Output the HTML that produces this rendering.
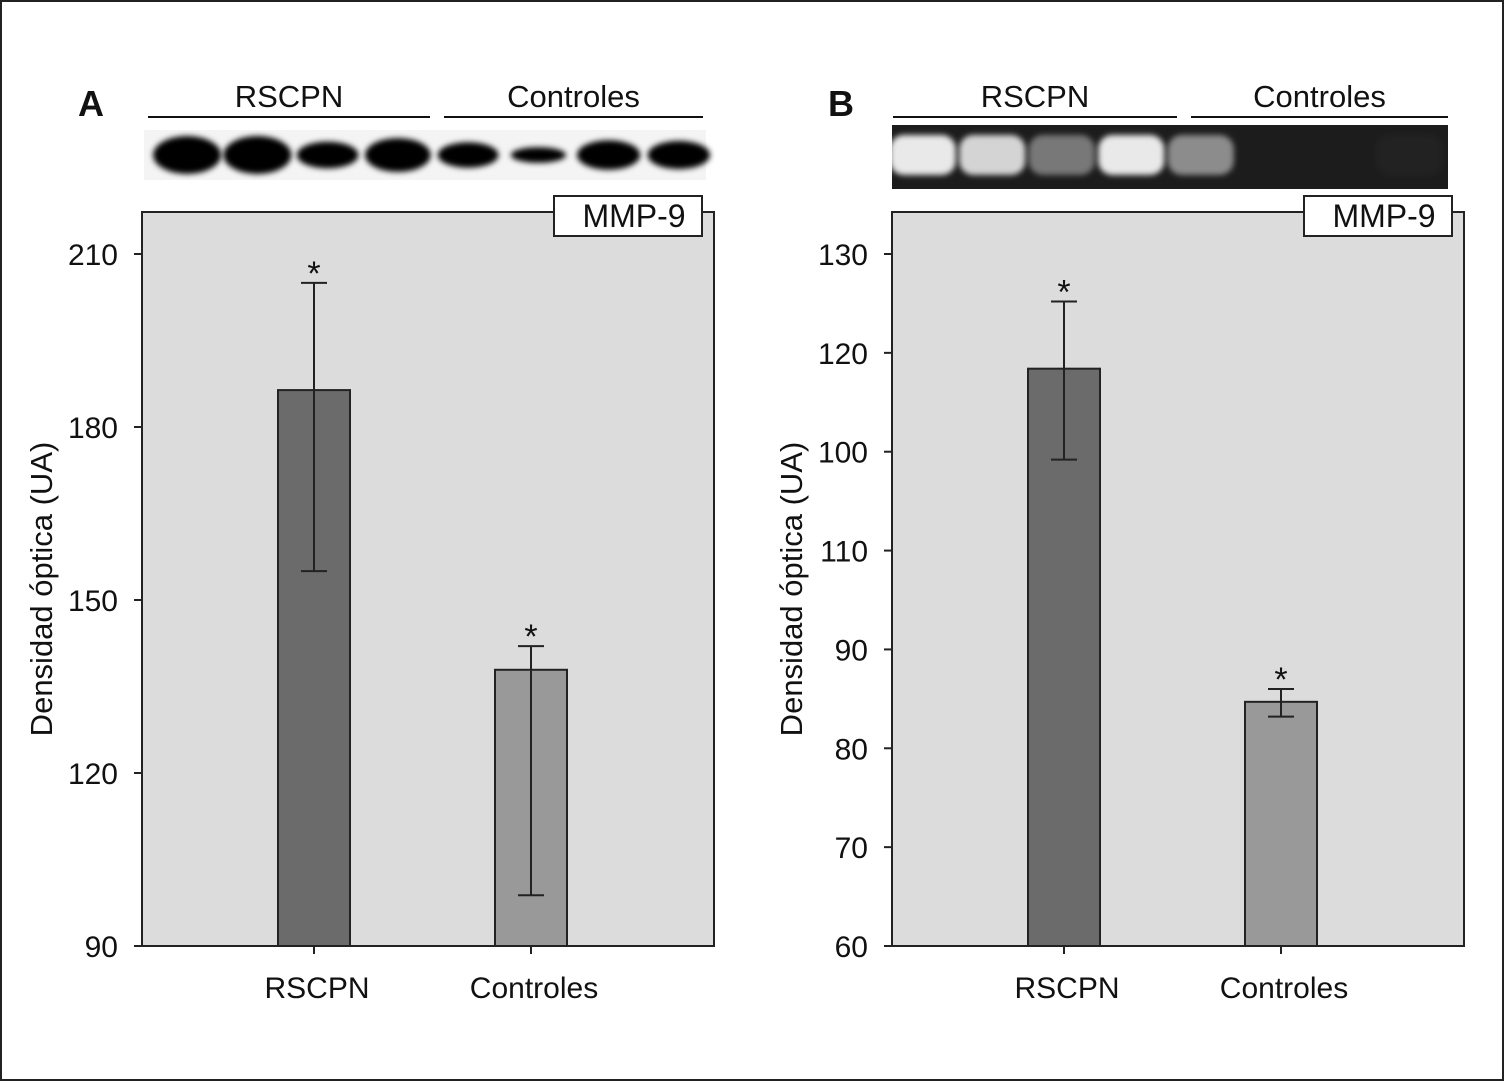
<!DOCTYPE html>
<html><head><meta charset="utf-8"><style>
body{margin:0;background:#fff}
svg text{font-family:"Liberation Sans",sans-serif;fill:#111}
</style></head><body>
<svg id="c" width="1504" height="1081" viewBox="0 0 1504 1081" xmlns="http://www.w3.org/2000/svg">
<defs>
<filter id="bl" x="-50%" y="-50%" width="200%" height="200%"><feGaussianBlur stdDeviation="3"/></filter>
</defs>
<rect x="1" y="1" width="1502" height="1079" fill="#fff" stroke="#222" stroke-width="2"/>
<g id="A"></g><g id="B"></g>
</svg>
<script>
const NS='http://www.w3.org/2000/svg';
const categories=['RSCPN','Controles'];
const valuesA=[186.4,137.9];
const errHiA=[205,142];
const errLoA=[155,98.8];
const ticksA=[90,120,150,180,210];
const valuesB=[118.4,84.7];
const errHiB=[125.2,86];
const errLoB=[109.2,83.2];
const tickValsB=[60,70,80,90,100,110,120,130];
const tickLabelsB=['60','70','80','90','110','100','120','130'];
const blotA=[1,1,0.6,0.85,0.55,0.2,0.7,0.65];
const blotB=[1,0.9,0.45,1,0.55,0,0,0.03];

function el(p,t,a){const e=document.createElementNS(NS,t);for(const k in a)e.setAttribute(k,a[k]);p.appendChild(e);return e;}

function panel(g,o){
  const x0=o.x0,x1=o.x0+572,yT=212,yB=946;
  const y=v=>yB-(v-o.min)/(o.max-o.min)*(yB-o.ty0);
  const L=el(g,'text',{x:o.x0-64,y:116,'font-size':36,'font-weight':'bold'});L.textContent=o.letter;
  
  
  o.groups.forEach((gr,i)=>{
    const ln=el(g,'line',{x1:gr[0],x2:gr[1],y1:117,y2:117,stroke:'#111','stroke-width':2});
    
    
    const t=el(g,'text',{x:(gr[0]+gr[1])/2,y:107,'font-size':31,'text-anchor':'middle'});t.textContent=categories[i];
    
    
  });
  const bg=el(g,'g',{});
  
  
  if(o.dark){
    el(bg,'rect',{x:892,y:125,width:556,height:64,fill:'#1c1c1c'});
    const lw=556/8;
    o.blot.forEach((v,i)=>{ if(v<=0.02)return;
      const cx=892+lw*(i+0.5)-4;
      el(bg,'rect',{x:cx-33,y:135,width:66,height:40,rx:14,fill:'#fff','fill-opacity':v*0.9,filter:'url(#bl)'});
    });
  } else {
    el(bg,'rect',{x:144,y:130,width:562,height:50,fill:'#f4f4f4'});
    const lw=562/8;
    o.blot.forEach((v,i)=>{
      const cx=144+lw*(i+0.5)+8;
      el(bg,'ellipse',{cx:cx,cy:155,rx:26+8*v,ry:5+14*v,fill:'#000',filter:'url(#bl)'});
    });
  }
  const pa=el(g,'rect',{x:x0,y:yT,width:572,height:yB-yT,fill:'#dcdcdc',stroke:'#222','stroke-width':2});
  
  
  const mb=el(g,'rect',{x:x1-160,y:196,width:148,height:40,fill:'#fff',stroke:'#222','stroke-width':2});
  
  
  const mt=el(g,'text',{x:x1-80,y:227,'font-size':32,'text-anchor':'middle'});mt.textContent='MMP-9';
  
  
  o.tickVals.forEach((v,i)=>{
    const yy=y(v);
    const tk=el(g,'line',{x1:x0-8,x2:x0,y1:yy,y2:yy,stroke:'#222','stroke-width':2});
    
    
    const t=el(g,'text',{x:x0-24,y:yy+11,'font-size':30,'text-anchor':'end'});t.textContent=o.tickLabels[i];
    
    
  });
  const yt=el(g,'text',{x:0,y:0,'font-size':31,'text-anchor':'middle',transform:`translate(${x0-90},${(yT+yB)/2+10}) rotate(-90)`});
  yt.textContent='Densidad óptica (UA)';
  
  
  const centers=[x0+172,x0+389];
  const cols=['#6b6b6b','#999999'];
  o.values.forEach((v,i)=>{
    const cx=centers[i];
    const b=el(g,'rect',{x:cx-36,y:y(v),width:72,height:yB-y(v),fill:cols[i],stroke:'#222','stroke-width':2});
    
    
    const e=el(g,'path',{d:`M${cx},${y(o.hi[i])}V${y(o.lo[i])}M${cx-13},${y(o.hi[i])}H${cx+13}M${cx-13},${y(o.lo[i])}H${cx+13}`,stroke:'#222','stroke-width':2,fill:'none'});
    
    
    const s=el(g,'text',{x:cx,y:y(o.hi[i])+2,'font-size':34,'text-anchor':'middle'});s.textContent='*';
    
    
    const xt=el(g,'line',{x1:cx,x2:cx,y1:yB,y2:yB+8,stroke:'#222','stroke-width':2});
    
    
    const xl=el(g,'text',{x:cx+3,y:998,'font-size':30,'text-anchor':'middle'});xl.textContent=categories[i];
    
    
  });
}
panel(document.getElementById('A'),{x0:142,letter:'A',min:90,max:210,ty0:254,tickVals:ticksA,tickLabels:ticksA.map(String),values:valuesA,hi:errHiA,lo:errLoA,groups:[[148,430],[444,703]],blot:blotA,dark:false});
panel(document.getElementById('B'),{x0:892,letter:'B',min:60,max:130,ty0:254,tickVals:tickValsB,tickLabels:tickLabelsB,values:valuesB,hi:errHiB,lo:errLoB,groups:[[893,1177],[1191,1448]],blot:blotB,dark:true});
</script>
</body></html>
